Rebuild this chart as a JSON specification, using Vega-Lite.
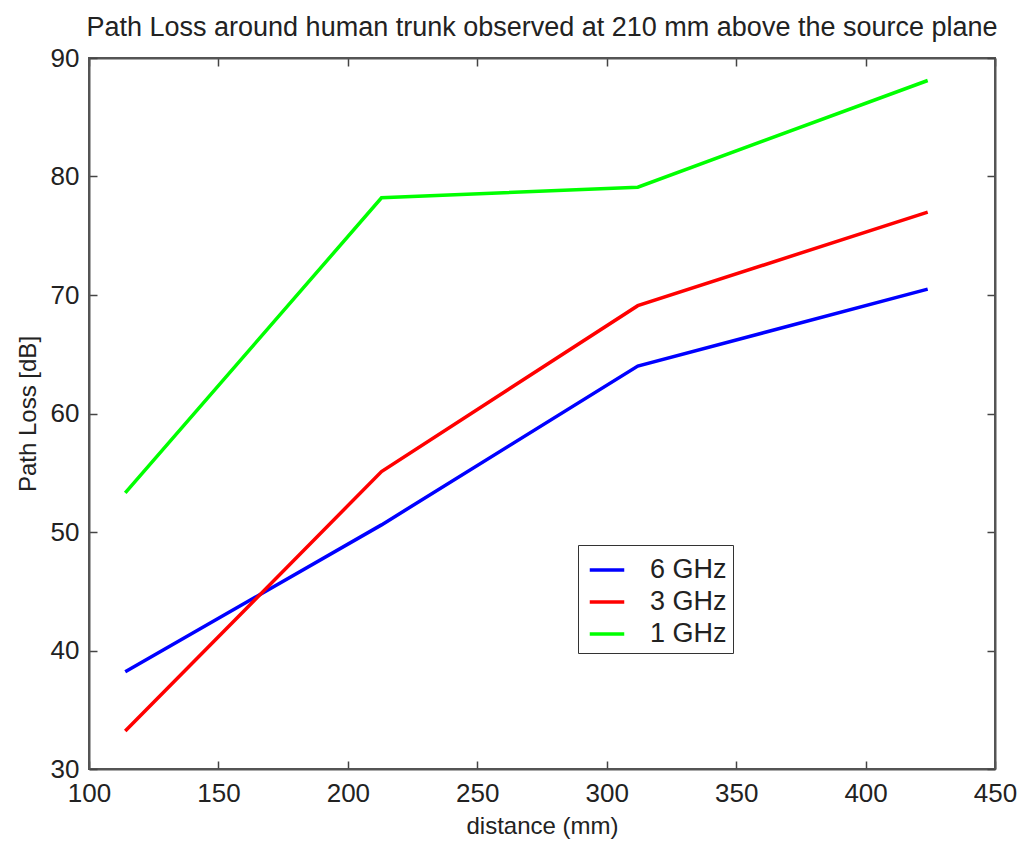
{
  "$schema": "https://vega.github.io/schema/vega-lite/v6.json",
  "width": 906,
  "height": 711,
  "autosize": {"type": "none"},
  "padding": {"left": 89, "top": 58, "right": 29, "bottom": 83},
  "background": "white",
  "title": {
    "text": "Path Loss around human trunk observed at 210 mm above the source plane",
    "font": "Liberation Sans",
    "fontSize": 27,
    "fontWeight": "normal",
    "color": "#222",
    "anchor": "middle",
    "offset": 3
  },
  "config": {
    "view": {"stroke": "#555", "strokeWidth": 2},
    "axis": {
      "labelFont": "Liberation Sans",
      "titleFont": "Liberation Sans",
      "labelFontSize": 26,
      "titleFontSize": 24,
      "titleFontWeight": "normal",
      "labelColor": "#222",
      "titleColor": "#222",
      "domainColor": "#555",
      "domainWidth": 2,
      "tickColor": "#444",
      "tickSize": -8,
      "tickWidth": 1.5,
      "grid": false,
      "labelFlush": false
    }
  },
  "data": {
    "values": [
      {"distance": 114, "loss": 38.2, "freq": "6 GHz"},
      {"distance": 213, "loss": 50.6, "freq": "6 GHz"},
      {"distance": 312, "loss": 64.0, "freq": "6 GHz"},
      {"distance": 424, "loss": 70.5, "freq": "6 GHz"},
      {"distance": 114, "loss": 33.2, "freq": "3 GHz"},
      {"distance": 213, "loss": 55.1, "freq": "3 GHz"},
      {"distance": 312, "loss": 69.1, "freq": "3 GHz"},
      {"distance": 424, "loss": 77.0, "freq": "3 GHz"},
      {"distance": 114, "loss": 53.3, "freq": "1 GHz"},
      {"distance": 213, "loss": 78.2, "freq": "1 GHz"},
      {"distance": 312, "loss": 79.1, "freq": "1 GHz"},
      {"distance": 424, "loss": 88.1, "freq": "1 GHz"}
    ]
  },
  "layer": [
    {
      "mark": {"type": "line", "strokeWidth": 3.5, "clip": true},
      "encoding": {
        "x": {
          "field": "distance", "type": "quantitative",
          "scale": {"domain": [100, 450], "nice": false, "zero": false},
          "axis": {"title": "distance (mm)", "values": [100,150,200,250,300,350,400,450], "labelPadding": 19, "titlePadding": 8}
        },
        "y": {
          "field": "loss", "type": "quantitative",
          "scale": {"domain": [30, 90], "nice": false, "zero": false},
          "axis": {"title": "Path Loss [dB]", "values": [30,40,50,60,70,80,90], "labelPadding": 18, "titlePadding": 10}
        },
        "color": {
          "field": "freq", "type": "nominal",
          "scale": {"domain": ["6 GHz", "3 GHz", "1 GHz"], "range": ["#0000ff", "#ff0000", "#00ff00"]},
          "legend": {
            "title": null,
            "orient": "none",
            "legendX": 489,
            "legendY": 487,
            "symbolType": "stroke",
            "symbolStrokeWidth": 3.5,
            "symbolSize": 1190,
            "symbolOffset": 4,
            "labelFont": "Liberation Sans",
            "labelFontSize": 27,
            "labelColor": "#222",
            "rowPadding": 0,
            "padding": 6,
            "strokeColor": "#333",
            "fillColor": "white",
            "labelOffset": 24
          }
        }
      }
    },
    {
      "mark": {"type": "point", "opacity": 0},
      "encoding": {
        "x": {"field": "distance", "type": "quantitative", "axis": {"orient": "top", "labels": false, "title": null, "values": [100,150,200,250,300,350,400,450]}},
        "y": {"field": "loss", "type": "quantitative", "axis": {"orient": "right", "labels": false, "title": null, "values": [30,40,50,60,70,80,90]}}
      }
    }
  ],
  "resolve": {"axis": {"x": "independent", "y": "independent"}}
}
